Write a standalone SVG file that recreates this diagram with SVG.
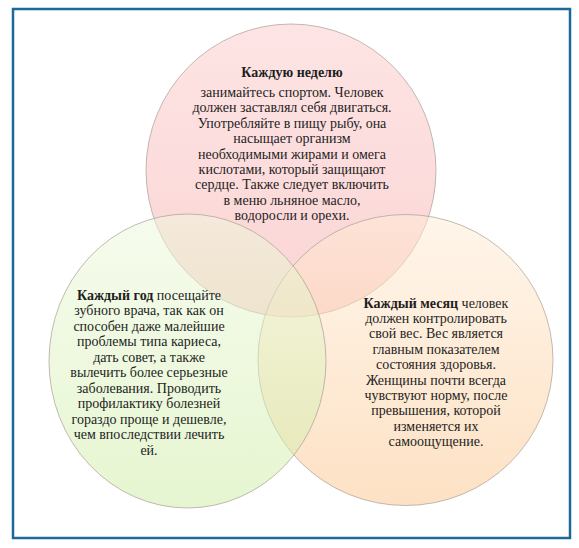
<svg xmlns="http://www.w3.org/2000/svg" width="579" height="548" viewBox="0 0 579 548">
<defs>
<linearGradient id="gTop" x1="0" y1="0" x2="0" y2="1">
<stop offset="0" stop-color="#fccaca"/>
<stop offset="1" stop-color="#f7a9a9"/>
</linearGradient>
<linearGradient id="gLeft" x1="0" y1="0" x2="0" y2="1">
<stop offset="0" stop-color="#edf9dc"/>
<stop offset="1" stop-color="#cdeca2"/>
</linearGradient>
<linearGradient id="gRight" x1="0" y1="0" x2="0" y2="1">
<stop offset="0" stop-color="#ffecd6"/>
<stop offset="1" stop-color="#fbc48a"/>
</linearGradient>
</defs>
<rect x="13" y="9" width="557" height="529" fill="#ffffff" stroke="#1d6a99" stroke-width="2.5"/>
<g fill-opacity="0.5" stroke="#a89e94" stroke-opacity="0.7" stroke-width="1">
<g id="node-week">
<ellipse cx="291" cy="170.5" rx="145" ry="146.5" fill="url(#gTop)"/>
</g>
<g id="node-month">
<ellipse cx="405.5" cy="360" rx="147.5" ry="145.5" fill="url(#gRight)"/>
</g>
<g id="node-year">
<ellipse cx="187.5" cy="361" rx="138.5" ry="147" fill="url(#gLeft)"/>
</g>
</g>
<g id="connectors"/>
<g id="text-week" fill="#1e1e1e" text-anchor="middle">
<text font-family="Liberation Serif" font-size="14" x="292" y="77" font-weight="bold">Каждую неделю</text>
<text font-family="Liberation Serif" font-size="14" x="292" y="97">занимайтесь спортом. Человек</text>
<text font-family="Liberation Serif" font-size="14" x="292" y="112.4">должен заставлял себя двигаться.</text>
<text font-family="Liberation Serif" font-size="14" x="292" y="127.8">Употребляйте в пищу рыбу, она</text>
<text font-family="Liberation Serif" font-size="14" x="292" y="143.2">насыщает организм</text>
<text font-family="Liberation Serif" font-size="14" x="292" y="158.6">необходимыми  жирами и омега</text>
<text font-family="Liberation Serif" font-size="14" x="292" y="174">кислотами, который защищают</text>
<text font-family="Liberation Serif" font-size="14" x="292" y="189.4">сердце. Также следует включить</text>
<text font-family="Liberation Serif" font-size="14" x="292" y="204.8">в меню льняное масло,</text>
<text font-family="Liberation Serif" font-size="14" x="292" y="220.2">водоросли и орехи.</text>
</g>
<g id="text-year" fill="#1e1e1e" text-anchor="middle">
<text font-family="Liberation Serif" font-size="14" x="149" y="299.5"><tspan font-weight="bold">Каждый год</tspan> посещайте</text>
<text font-family="Liberation Serif" font-size="14" x="149" y="315">зубного врача, так как он</text>
<text font-family="Liberation Serif" font-size="14" x="149" y="330.5">способен даже малейшие</text>
<text font-family="Liberation Serif" font-size="14" x="149" y="346">проблемы типа кариеса,</text>
<text font-family="Liberation Serif" font-size="14" x="149" y="361.5">дать совет, а также</text>
<text font-family="Liberation Serif" font-size="14" x="149" y="377">вылечить более серьезные</text>
<text font-family="Liberation Serif" font-size="14" x="149" y="392.5">заболевания. Проводить</text>
<text font-family="Liberation Serif" font-size="14" x="149" y="408">профилактику болезней</text>
<text font-family="Liberation Serif" font-size="14" x="149" y="423.5">гораздо проще и дешевле,</text>
<text font-family="Liberation Serif" font-size="14" x="149" y="439">чем впоследствии лечить</text>
<text font-family="Liberation Serif" font-size="14" x="149" y="454.5">ей.</text>
</g>
<g id="text-month" fill="#1e1e1e" text-anchor="middle">
<text font-family="Liberation Serif" font-size="14" x="436" y="307.5"><tspan font-weight="bold">Каждый месяц</tspan> человек</text>
<text font-family="Liberation Serif" font-size="14" x="436" y="322.9">должен контролировать</text>
<text font-family="Liberation Serif" font-size="14" x="436" y="338.3">свой вес. Вес является</text>
<text font-family="Liberation Serif" font-size="14" x="436" y="353.7">главным показателем</text>
<text font-family="Liberation Serif" font-size="14" x="436" y="369.1">состояния здоровья.</text>
<text font-family="Liberation Serif" font-size="14" x="436" y="384.5">Женщины почти всегда</text>
<text font-family="Liberation Serif" font-size="14" x="436" y="399.9">чувствуют норму, после</text>
<text font-family="Liberation Serif" font-size="14" x="436" y="415.3">превышения, которой</text>
<text font-family="Liberation Serif" font-size="14" x="436" y="430.7">изменяется их</text>
<text font-family="Liberation Serif" font-size="14" x="436" y="446.1">самоощущение.</text>
</g>
</svg>
